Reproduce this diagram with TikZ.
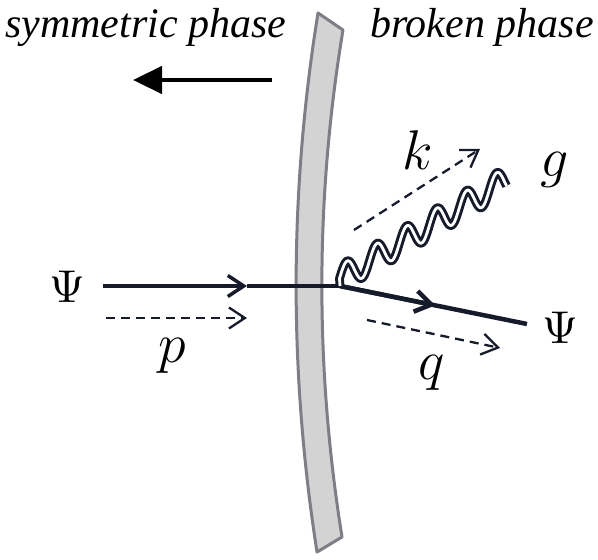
\RequirePackage{fix-cm}
\documentclass[tikz,border=0pt]{standalone}
\usepackage[no-math]{fontspec}
\newfontfamily\phasefont{Liberation Serif}
\usetikzlibrary{arrows.meta,calc}
\definecolor{ink}{HTML}{161B2B}
\definecolor{wallfill}{HTML}{D3D3D3}
\definecolor{walledge}{HTML}{7E7F86}
\begin{document}
\begin{tikzpicture}[x=1pt,y=-1pt,
  phase/.style={font=\phasefont\itshape\fontsize{42}{48}\selectfont, inner sep=0pt, anchor=base west},
  bigpsi/.style={font=\fontsize{10}{12}\selectfont, inner sep=0pt},
  mom/.style={font=\fontsize{56}{62}\selectfont, inner sep=0pt},
  chev/.style={-{Straight Barb[length=16pt 0 0,width=21pt 0 0]}},
  fermion/.style={draw=ink, line width=3.5pt},
  momarrow/.style={draw=ink, line width=2.3pt, dash pattern=on 9pt off 6pt, chev},
  gluon/.style={draw=ink, line width=3pt, double=white, double distance=2.8pt, line join=round}
]
\useasboundingbox (0,0) rectangle (598,560);
% wall
\filldraw[fill=wallfill, draw=walledge, line width=3pt, line join=round]
  (318,13) .. controls (289,193) and (289,373) .. (317,552) -- (342,537)
  .. controls (315,368) and (315,199) .. (343,30) -- cycle;
% phase labels
\node[phase] (sym) at (5,37) {symmetric phase};
\node[phase] (brk) at (370,37) {broken phase};
% big arrow
\coordinate (bigS) at (272,80);
\coordinate (bigE) at (133,80);
\draw[line width=4.5pt, -{Triangle[length=29pt 0 0,width=27pt 0 0]}] (bigS) -- (bigE);
% labels
\node[bigpsi] (psiL) at (67,287) {\scalebox{4.6}{$\Psi$}};
\node[bigpsi] (psiR) at (560,328) {\scalebox{4.6}{$\Psi$}};
\node[mom] (p) at (172,356) {$p$};
\node[mom] (q) at (432,373) {$q$};
\node[mom] (k) at (418,150) {$k$};
\node[mom] (g) at (555,170) {$g$};
% fermion lines
\coordinate (inS) at (103,286);
\coordinate (inT) at (247,286);
\coordinate (v) at (340,286);
\coordinate (outE) at (527,324);
\coordinate (outT) at ($(v)!0.51!(outE)$);
\draw[fermion, chev] (inS) -- (inT);
\draw[fermion] (inT) -- (v);
\draw[fermion, line width=4.5pt] (v) -- (outE);
\draw[fermion, line width=4.5pt, chev] (v) -- (outT);
% gluon
\draw[gluon] (v) -- plot[domain=0:194, samples=220, variable=\t]
  ({339.5+0.861*\t}, {278.5-0.508*\t-13*sin(\t*10.345)});
% momentum arrows
\coordinate (pS) at (106,318);
\coordinate (pE) at (247,318);
\coordinate (qS) at (367,320);
\coordinate (qE) at (500,348);
\coordinate (kS) at (354,230);
\coordinate (kE) at (480,149);
\draw[momarrow] (pS) -- (pE);
\draw[momarrow] (qS) -- (qE);
\draw[momarrow] (kS) -- (kE);
\end{tikzpicture}
\end{document}
